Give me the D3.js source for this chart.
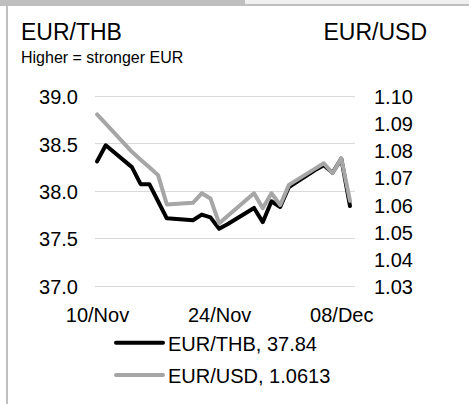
<!DOCTYPE html>
<html>
<head>
<meta charset="utf-8">
<script src="https://cdn.jsdelivr.net/npm/d3@7"></script>
<style>
  html, body { margin: 0; padding: 0; background: #fff; }
  svg { display: block; font-family: "Liberation Sans", Arial, sans-serif; }
</style>
</head>
<body>
<svg id="chart" width="469" height="404"></svg>
<script>
// ---- data ----
const dates = ["2022-11-10","2022-11-11","2022-11-14","2022-11-15","2022-11-16","2022-11-17","2022-11-18",
  "2022-11-21","2022-11-22","2022-11-23","2022-11-24","2022-11-25","2022-11-28","2022-11-29","2022-11-30",
  "2022-12-01","2022-12-02","2022-12-05","2022-12-06","2022-12-07","2022-12-08","2022-12-09"];
const eurThb = [38.31,38.48,38.25,38.07,38.07,37.89,37.71,37.69,37.75,37.72,37.60,37.65,37.82,37.67,37.89,
  37.83,38.04,38.22,38.27,38.19,38.34,37.84];
const eurUsd = [1.0932,1.0898,1.0794,1.0765,1.0737,1.0708,1.0600,1.0606,1.0641,1.0622,1.0530,1.0558,1.0641,
  1.0586,1.0641,1.0598,1.0672,1.0732,1.0752,1.0715,1.0770,1.0613];
const xTickDates = ["2022-11-10","2022-11-24","2022-12-08"];
const leftTicks = [37.0,37.5,38.0,38.5,39.0];
const rightTicks = [1.03,1.04,1.05,1.06,1.07,1.08,1.09,1.10];
const seriesNames = ["EUR/THB","EUR/USD"];
const lastLabels = ["37.84","1.0613"];

// ---- setup ----
const parse = d3.timeParse("%Y-%m-%d");
const svg = d3.select("#chart");
const colors = ["#000000", "#a6a6a6"];

// frame / header strip
svg.append("rect").attr("x",245).attr("y",0).attr("width",224).attr("height",4).attr("fill","#f0f0f0");
svg.append("rect").attr("x",0).attr("y",4).attr("width",469).attr("height",2).attr("fill","#bfbfbf");
svg.append("rect").attr("x",0).attr("y",0).attr("width",245).attr("height",5).attr("fill","#bfbfbf");
svg.append("rect").attr("x",6).attr("y",5).attr("width",2).attr("height",399).attr("fill","#bfbfbf");

// titles
svg.append("text").attr("x",21).attr("y",39.5).attr("font-size",23).attr("fill","#000").text(seriesNames[0]);
svg.append("text").attr("x",427).attr("y",39.5).attr("font-size",23).attr("text-anchor","end").attr("fill","#000").text(seriesNames[1]);
svg.append("text").attr("x",21).attr("y",63).attr("font-size",16).attr("fill","#000").text("Higher = stronger EUR");

// scales
const x = d3.scaleTime().domain([parse(dates[0]), parse(dates[dates.length-1])]).range([97, 350]);
const yL = d3.scaleLinear().domain([37, 39]).range([285.7, 96]);
const yR = d3.scaleLinear().domain([1.03, 1.10]).range([285.7, 96]);

// gridlines
svg.append("g").selectAll("line").data(leftTicks).join("line")
  .attr("x1",95).attr("x2",355)
  .attr("y1",d=>Math.round(yL(d))+0.5).attr("y2",d=>Math.round(yL(d))+0.5)
  .attr("stroke","#d9d9d9").attr("stroke-width",1.2);

// axes
const axL = svg.append("g").attr("transform","translate(95,0)")
  .call(d3.axisLeft(yL).tickValues(leftTicks).tickSize(0).tickPadding(17).tickFormat(d3.format(".1f")));
const axR = svg.append("g").attr("transform","translate(355,0)")
  .call(d3.axisRight(yR).tickValues(rightTicks).tickSize(0).tickPadding(19).tickFormat(d3.format(".2f")));
const axB = svg.append("g").attr("transform","translate(0,300)")
  .call(d3.axisBottom(x).tickValues(xTickDates.map(parse)).tickSize(0).tickPadding(7.5).tickFormat(d3.timeFormat("%d/%b")));
[axL, axR, axB].forEach(a => {
  a.select(".domain").remove();
  a.selectAll("text").attr("font-size",20).attr("fill","#000")
    .attr("font-family","'Liberation Sans', Arial, sans-serif");
});
axL.selectAll("text").attr("dy","0.38em");
axR.selectAll("text").attr("dy","0.38em");

// lines
const dataThb = dates.map((d,i)=>({date:parse(d), v:eurThb[i]}));
const dataUsd = dates.map((d,i)=>({date:parse(d), v:eurUsd[i]}));
const lineL = d3.line().x(d=>x(d.date)).y(d=>yL(d.v));
const lineR = d3.line().x(d=>x(d.date)).y(d=>yR(d.v));
svg.append("path").datum(dataThb).attr("d",lineL).attr("fill","none")
  .attr("stroke",colors[0]).attr("stroke-width",4).attr("stroke-linejoin","round").attr("stroke-linecap","round");
svg.append("path").datum(dataUsd).attr("d",lineR).attr("fill","none")
  .attr("stroke",colors[1]).attr("stroke-width",4).attr("stroke-linejoin","round").attr("stroke-linecap","round");

// legend
const leg = svg.append("g");
seriesNames.forEach((name,i)=>{
  const yy = 342.7 + i*32.3;
  leg.append("line").attr("x1",116).attr("x2",163).attr("y1",yy).attr("y2",yy)
    .attr("stroke",colors[i]).attr("stroke-width",4).attr("stroke-linecap","round");
  leg.append("text").attr("x",168).attr("y",yy+8.3).attr("font-size",20).attr("fill","#000")
    .text(name + ", " + lastLabels[i]);
});
</script>
</body>
</html>
